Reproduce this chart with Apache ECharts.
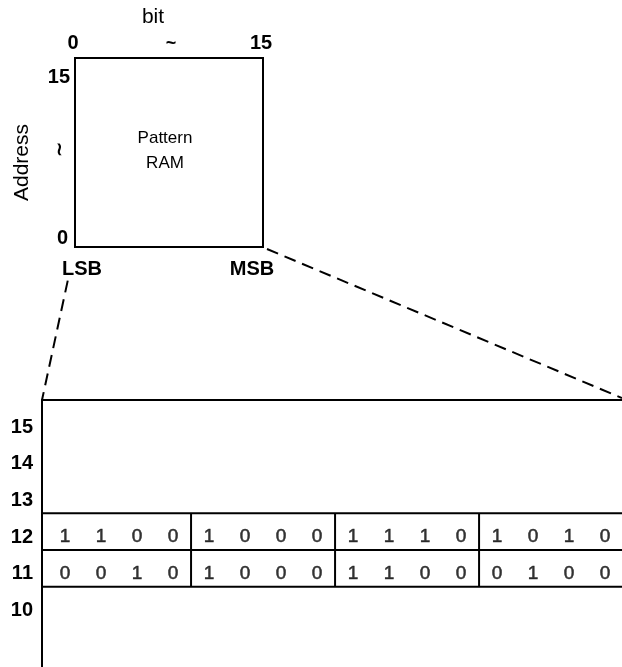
<!DOCTYPE html>
<html>
<head>
<meta charset="utf-8">
<script src="https://cdn.jsdelivr.net/npm/echarts@6/dist/echarts.min.js"></script>
<style>
  html, body { margin: 0; background: #fff; }
  #chart { width: 622px; height: 667px; }
</style>
</head>
<body>
<div id="chart"></div>
<script>
// rows of the blown-up section
const addressLabels = [15, 14, 13, 12, 11, 10]
const rowAddress = [12, 11]
const row12 = [1, 1, 0, 0, 1, 0, 0, 0, 1, 1, 1, 0, 1, 0, 1, 0]
const row11 = [0, 0, 1, 0, 1, 0, 0, 0, 1, 1, 0, 0, 0, 1, 0, 0]
const rowBits = [row12, row11]
const groupEdges = [4, 8, 12]
// pattern RAM box ticks
const bitTicks = [0, 15]
const addrTicks = [0, 15]

const FONT = '"Liberation Sans", Arial, sans-serif'
const X_MIN = -0.14, X_MAX = 15.97
const Y_MIN = 8.46, Y_MAX = 15.74

const bitPoints = []
rowBits.forEach((bits, r) => {
  bits.forEach((b, i) => bitPoints.push([i + 0.5, rowAddress[r], b]))
})

const lineStyle = { stroke: '#000', lineWidth: 2 }
function seg(p1, p2) {
  return { type: 'line', shape: { x1: p1[0], y1: p1[1], x2: p2[0], y2: p2[1] }, style: lineStyle }
}

// one row = top/bottom rule + the 3 nibble separators
function renderRow(params, api) {
  const a = api.value(1)
  const top = a + 0.65, bot = a - 0.35
  const kids = [
    seg(api.coord([X_MIN, top]), api.coord([X_MAX, top])),
    seg(api.coord([X_MIN, bot]), api.coord([X_MAX, bot]))
  ]
  groupEdges.forEach(g => kids.push(seg(api.coord([g, bot]), api.coord([g, top]))))
  return { type: 'group', children: kids }
}

const txt = { color: '#000', fontFamily: FONT }
const bold = { ...txt, fontWeight: 'bold' }
const midBit = (bitTicks[0] + bitTicks[1]) / 2
const midAddr = (addrTicks[0] + addrTicks[1]) / 2

const option = {
  backgroundColor: '#fff',
  animation: false,
  grid: [
    { left: 42, right: 0, top: 400, bottom: 0 },
    { left: 75, top: 58, width: 188, height: 189, show: true, borderColor: '#000', borderWidth: 2 }
  ],
  xAxis: [
    {
      gridIndex: 0, type: 'value', min: X_MIN, max: X_MAX, position: 'top',
      axisLine: { show: true, onZero: false, lineStyle: { color: '#000', width: 2 } },
      axisTick: { show: false }, axisLabel: { show: false }, splitLine: { show: false }
    },
    {
      gridIndex: 1, type: 'value', min: 0, max: 15, position: 'top',
      axisLine: { show: false }, axisTick: { show: false }, splitLine: { show: false },
      axisLabel: {
        ...bold, fontSize: 20, margin: 5,
        customValues: [bitTicks[0], midBit, bitTicks[1]],
        formatter: v => v === midBit ? '{t|~}' : '{n|' + v + '}',
        rich: {
          n: { ...bold, fontSize: 20, padding: [0, 4, 0, 0] },
          t: { ...txt, fontSize: 18, padding: [0, 0, 0, 4] }
        }
      },
      name: 'bit', nameLocation: 'middle', nameGap: 30,
      nameTextStyle: { ...txt, fontSize: 21, padding: [0, 32, 0, 0] }
    },
    {
      gridIndex: 1, type: 'value', min: 0, max: 15, position: 'bottom',
      axisLine: { show: false }, axisTick: { show: false }, splitLine: { show: false },
      axisLabel: {
        ...bold, fontSize: 20, margin: 12,
        customValues: bitTicks,
        formatter: v => v === bitTicks[0] ? '{l|LSB}' : '{m|MSB}',
        rich: {
          l: { ...bold, fontSize: 20, padding: [0, 0, 0, 14] },
          m: { ...bold, fontSize: 20, padding: [0, 22, 0, 0] }
        }
      }
    }
  ],
  yAxis: [
    {
      gridIndex: 0, type: 'value', min: Y_MIN, max: Y_MAX,
      axisLine: { show: true, onZero: false, lineStyle: { color: '#000', width: 2 } },
      axisTick: { show: false }, splitLine: { show: false },
      axisLabel: { ...bold, fontSize: 20, margin: 9, customValues: addressLabels }
    },
    {
      gridIndex: 1, type: 'value', min: 0, max: 15,
      axisLine: { show: false }, axisTick: { show: false }, splitLine: { show: false },
      axisLabel: {
        ...bold, fontSize: 20, margin: 5,
        customValues: [addrTicks[0], midAddr, addrTicks[1]],
        formatter: v => v === midAddr ? '{t|≀}' : v === addrTicks[1] ? '{h|' + v + '}' : '{b|' + v + '}',
        rich: {
          h: { ...bold, fontSize: 20, padding: [38, 0, 0, 0] },
          b: { ...bold, fontSize: 20, padding: [0, 2, 18, 0] },
          t: { ...txt, fontSize: 18, padding: [0, 7, 4, 0] }
        }
      },
      name: 'Address', nameLocation: 'middle', nameGap: 42, nameRotate: 90,
      nameTextStyle: { ...txt, fontSize: 21, padding: [0, 20, 0, 0] }
    }
  ],
  series: [
    {
      type: 'custom', xAxisIndex: 0, yAxisIndex: 0, silent: true,
      data: rowAddress.map(a => [0, a]), encode: { x: 0, y: 1 },
      renderItem: renderRow
    },
    {
      type: 'scatter', xAxisIndex: 0, yAxisIndex: 0, silent: true,
      data: bitPoints, symbolSize: 1, itemStyle: { color: 'rgba(0,0,0,0)' },
      label: {
        show: true, position: 'inside', ...txt, fontSize: 19,
        textBorderColor: '#000', textBorderWidth: 0.5,
        formatter: p => p.value[2]
      }
    },
    {
      type: 'scatter', xAxisIndex: 1, yAxisIndex: 1, silent: true,
      data: [], symbolSize: 0
    }
  ]
}

const chart = echarts.init(document.getElementById('chart'))
chart.setOption(option)

// dashed zoom lines from the RAM box corners to the enlarged table
const lsb = chart.convertToPixel({ gridIndex: 1 }, [bitTicks[0], addrTicks[0]])
const msb = chart.convertToPixel({ gridIndex: 1 }, [bitTicks[1], addrTicks[0]])
const tl = chart.convertToPixel({ gridIndex: 0 }, [X_MIN, Y_MAX])
const tr = chart.convertToPixel({ gridIndex: 0 }, [X_MAX, Y_MAX])
const centre = chart.convertToPixel({ gridIndex: 1 }, [midBit, midAddr])
const t0 = 0.22
const dash = { stroke: '#000', lineWidth: 2, lineDash: [12, 7] }

chart.setOption({
  graphic: [
    {
      type: 'line', silent: true,
      shape: { x1: lsb[0] + (tl[0] - lsb[0]) * t0, y1: lsb[1] + (tl[1] - lsb[1]) * t0, x2: tl[0], y2: tl[1] },
      style: dash
    },
    {
      type: 'line', silent: true,
      shape: { x1: msb[0] + 4, y1: msb[1] + 2, x2: tr[0], y2: tr[1] - 2 },
      style: dash
    },
    {
      type: 'text', silent: true, x: centre[0] - 4, y: centre[1] - 2,
      style: {
        text: 'Pattern\nRAM', fill: '#000', font: '17px ' + FONT,
        textAlign: 'center', textVerticalAlign: 'middle', lineHeight: 25
      }
    }
  ]
})

window.addEventListener('resize', () => chart.resize())
</script>
</body>
</html>
